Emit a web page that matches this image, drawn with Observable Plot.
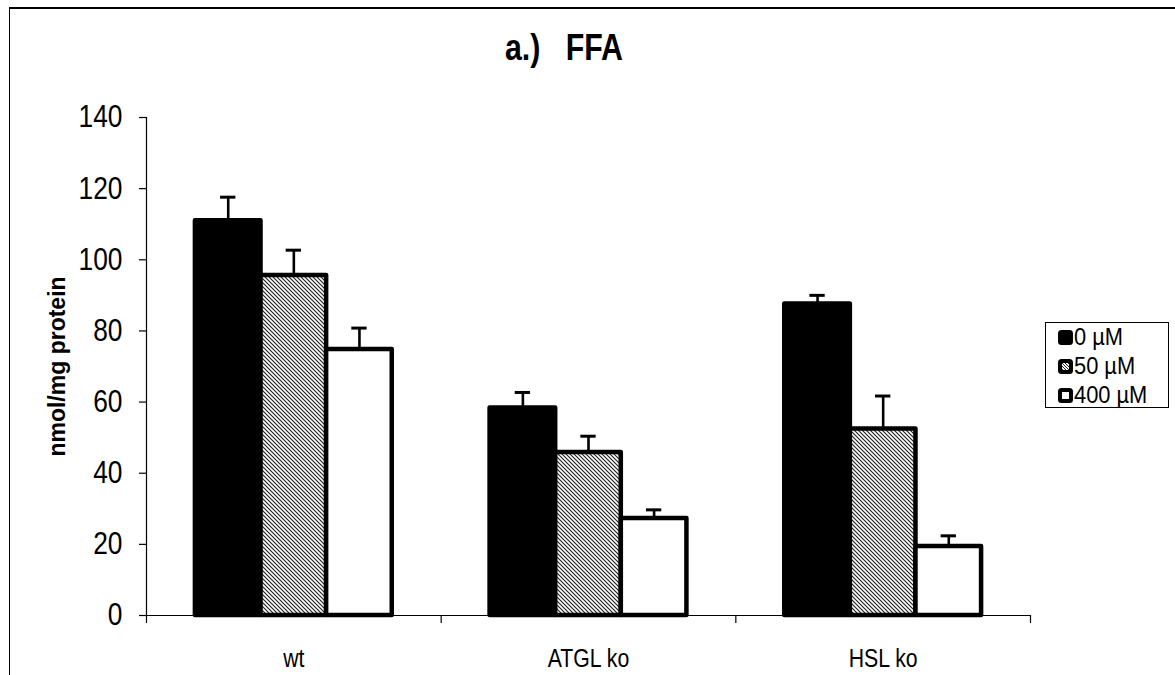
<!DOCTYPE html>
<html>
<head>
<meta charset="utf-8">
<script src="https://cdn.jsdelivr.net/npm/d3@7"></script>
<script src="https://cdn.jsdelivr.net/npm/@observablehq/plot@0.6"></script>
<style>
  html, body { margin: 0; padding: 0; background: #fff; width: 1175px; height: 675px; overflow: hidden; }
  body { font-family: "Liberation Sans", Arial, sans-serif; position: relative; }
  #frame { position: absolute; left: 9px; top: 7px; width: 1200px; height: 700px; border-left: 1.5px solid #000; border-top: 2px solid #000; box-sizing: border-box; }
  #title { position: absolute; left: 0; width: 1128px; top: 27px; text-align: center; }
  #title span { display: inline-block; font-weight: bold; font-size: 37px; white-space: pre; transform: scaleX(0.82); transform-origin: center; }
  #legend { position: absolute; left: 1045px; top: 322px; width: 124px; height: 86px; border: 1px solid #000; box-sizing: border-box; padding: 0 0 0 12px; }
  .row { display: flex; align-items: center; height: 29px; font-size: 23px; line-height: 23px; }
  .row span { display: inline-block; transform: scaleX(0.95); transform-origin: left center; }
  .row svg { margin-right: 1px; }
  #chart { position: absolute; left: 0; top: 0; }
</style>
</head>
<body>
<div id="frame"></div>
<div id="chart"></div>
<div id="title"><span></span></div>
<div id="legend"></div>
<script>
// ---- data ----
const title = "a.)   FFA";
const yLabel = "nmol/mg protein";
const groups = ["wt", "ATGL ko", "HSL ko"];
const series = ["0 µM", "50 µM", "400 µM"];
const values0 = [111.0, 58.3, 87.6];
const values50 = [95.6, 45.8, 52.4];
const values400 = [74.8, 27.3, 19.4];
const errors0 = [6.6, 4.4, 2.4];
const errors50 = [7.1, 4.6, 9.3];
const errors400 = [6.0, 2.4, 3.0];
const yTicks = [0, 20, 40, 60, 80, 100, 120, 140];

const seriesValues = [values0, values50, values400];
const seriesErrors = [errors0, errors50, errors400];
const fills = ["#000", "url(#hatch)", "#fff"];

// layout inside each group (fractions of one group slot)
const groupPad = 0.166;
const barW = (1 - 2 * groupPad) / 3;
const capHalf = 0.026;

const rows = [];
groups.forEach((g, gi) => {
  series.forEach((s, si) => {
    const x1 = gi + groupPad + si * barW;
    rows.push({
      group: g, series: s, si,
      value: seriesValues[si][gi],
      err: seriesValues[si][gi] + seriesErrors[si][gi],
      x1, x2: x1 + barW, xc: x1 + barW / 2,
      fill: fills[si]
    });
  });
});

const font = "'Liberation Sans', Arial, sans-serif";
const plot = Plot.plot({
  width: 1175,
  height: 675,
  marginLeft: 146,
  marginRight: 145,
  marginTop: 117,
  marginBottom: 60,
  style: { fontFamily: font, background: "transparent", color: "#000" },
  x: { domain: [0, 3], axis: null },
  y: { domain: [0, 140], axis: null },
  color: { type: "identity" },
  marks: [
    Plot.ruleX(rows, { x: "xc", y1: "value", y2: "err", stroke: "#000", strokeWidth: 2.6 }),
    Plot.ruleY(rows, { y: "err", x1: d => d.xc - capHalf, x2: d => d.xc + capHalf, stroke: "#000", strokeWidth: 3 }),
    Plot.rectY(rows, { x1: "x1", x2: "x2", y1: 0, y2: "value", fill: "fill", stroke: "#000", strokeWidth: 4.5, strokeLinejoin: "round" }),
    Plot.ruleY([0], { stroke: "#000", strokeWidth: 1.2 }),
    Plot.ruleX([0], { stroke: "#000", strokeWidth: 1.2 }),
    Plot.axisY({ ticks: yTicks, tickSize: 7, tickPadding: 17, fontSize: 31, label: null, anchor: "left", strokeWidth: 1.2 }),
    Plot.axisX({ ticks: [0, 1, 2, 3], tickSize: 8, tickFormat: () => "", label: null, anchor: "bottom", strokeWidth: 1.2 }),
    Plot.axisX({ ticks: groups.map((g, i) => i + 0.5), tickSize: 0, tickPadding: 34, tickFormat: v => groups[Math.floor(v)], fontSize: 25, label: null, anchor: "bottom" }),
    Plot.text([yLabel], { frameAnchor: "left", rotate: -90, dx: -89, textAnchor: "middle", fontWeight: "bold", fontSize: 23 })
  ]
});

// hatch pattern
const svg = d3.select(plot);
const defs = svg.insert("defs", ":first-child");
const pat = defs.append("pattern").attr("id", "hatch").attr("patternUnits", "userSpaceOnUse").attr("width", 4).attr("height", 4);
pat.append("rect").attr("width", 4).attr("height", 4).attr("fill", "#fff");
pat.append("path").attr("d", "M0,0L4,4M-1,3L1,5M3,-1L5,1").attr("stroke", "#222").attr("stroke-width", 1.2);

// condensed look for tick labels (the reference uses a narrow face)
svg.selectAll("text").each(function () {
  const t = d3.select(this);
  const tr = t.attr("transform") || "";
  if (tr.includes("rotate")) return;
  const x = +t.attr("x") || 0, y = +t.attr("y") || 0;
  t.attr("transform", `${tr} translate(${x},${y}) scale(0.85,1) translate(${-x},${-y})`);
});

document.getElementById("chart").appendChild(plot);
document.querySelector("#title span").textContent = title;

// legend
const legend = d3.select("#legend");
series.forEach((s, si) => {
  const row = legend.append("div").attr("class", "row");
  const sw = row.append("svg").attr("width", 15).attr("height", 15);
  if (si === 0) {
    const d2 = sw.append("defs").append("pattern").attr("id", "hatchL").attr("patternUnits", "userSpaceOnUse").attr("width", 3).attr("height", 3);
    d2.append("rect").attr("width", 3).attr("height", 3).attr("fill", "#fff");
    d2.append("path").attr("d", "M0,0L3,3M-1,2L1,4M2,-1L4,1").attr("stroke", "#222").attr("stroke-width", 1);
  }
  sw.append("rect").attr("x", 2).attr("y", 2).attr("width", 11).attr("height", 11).attr("rx", 1.5)
    .attr("fill", si === 1 ? "url(#hatchL)" : fills[si]).attr("stroke", "#000").attr("stroke-width", 4);
  row.append("span").text(s);
});
</script>
</body>
</html>
